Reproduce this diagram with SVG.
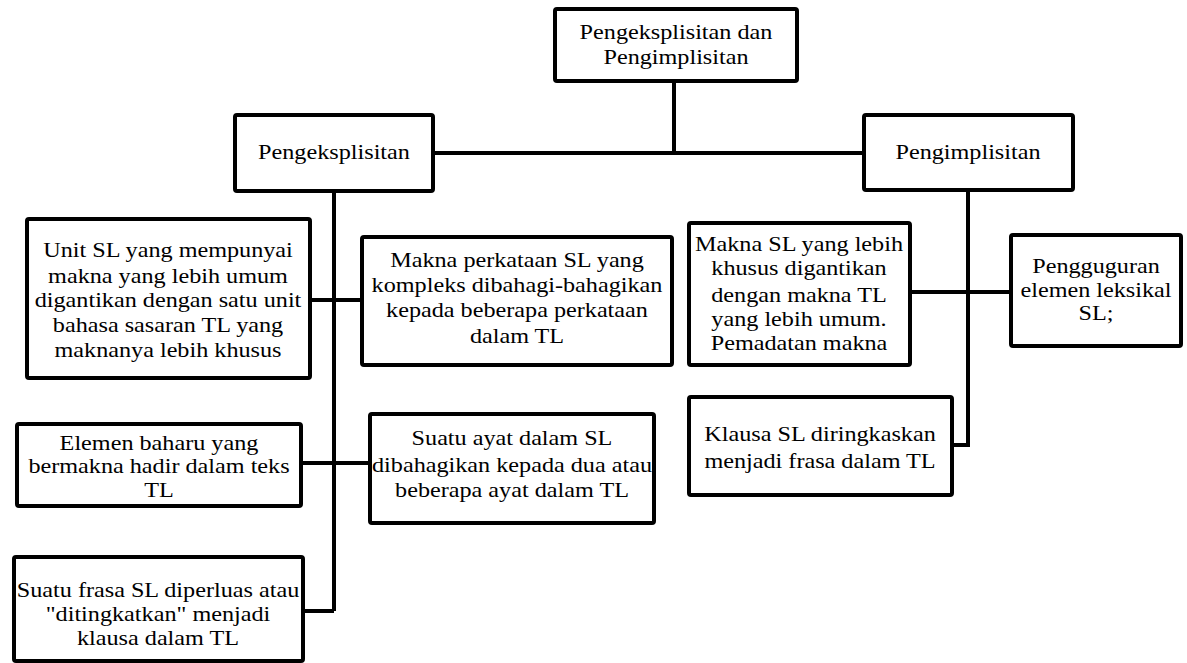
<svg xmlns="http://www.w3.org/2000/svg" width="1187" height="663" viewBox="0 0 1187 663">
  <style>
    .box { fill: #ffffff; stroke: #000000; stroke-width: 4; }
    text { font-family: 'Liberation Serif', 'Times New Roman', serif; font-size: 22px; fill: #000000; text-anchor: middle; }
    .wire { fill: none; stroke: #000000; stroke-width: 4; }
  </style>
  <rect width="1187" height="663" fill="#ffffff"/>

  <!-- connectors -->
  <g id="connectors" class="wire">
    <path d="M674,81 V153"/>
    <path d="M433,153 H864"/>
    <path d="M334,191 V611"/>
    <path d="M310,300 H362"/>
    <path d="M301,463 H370"/>
    <path d="M303,611 H334"/>
    <path d="M968,190 V445 H952"/>
    <path d="M910,292 H1011"/>
  </g>

  <!-- labels are drawn slightly widened: each label group is centred at its box's x -->
  <g id="root">
    <rect class="box" x="555" y="9" width="242" height="72" rx="2"/>
    <g transform="translate(676,0) scale(1.1,1)">
      <text x="0" y="39">Pengeksplisitan dan</text>
      <text x="0" y="64">Pengimplisitan</text>
    </g>
  </g>

  <g id="pengeksplisitan">
    <rect class="box" x="235" y="115" width="198" height="76" rx="2"/>
    <g transform="translate(334,0) scale(1.1,1)">
      <text x="0" y="159">Pengeksplisitan</text>
    </g>
  </g>

  <g id="pengimplisitan">
    <rect class="box" x="864" y="115" width="209" height="75" rx="2"/>
    <g transform="translate(968,0) scale(1.1,1)">
      <text x="0" y="159">Pengimplisitan</text>
    </g>
  </g>

  <g id="unit-sl">
    <rect class="box" x="27" y="219" width="283" height="159" rx="2"/>
    <g transform="translate(168,0) scale(1.1,1)">
      <text x="0" y="257">Unit SL yang mempunyai</text>
      <text x="0" y="283">makna yang lebih umum</text>
      <text x="0" y="307">digantikan dengan satu unit</text>
      <text x="0" y="332">bahasa sasaran TL yang</text>
      <text x="0" y="357">maknanya lebih khusus</text>
    </g>
  </g>

  <g id="makna-perkataan">
    <rect class="box" x="362" y="237" width="310" height="128" rx="2"/>
    <g transform="translate(517,0) scale(1.1,1)">
      <text x="0" y="267">Makna perkataan SL yang</text>
      <text x="0" y="292">kompleks dibahagi-bahagikan</text>
      <text x="0" y="317">kepada beberapa perkataan</text>
      <text x="0" y="343">dalam TL</text>
    </g>
  </g>

  <g id="makna-sl">
    <rect class="box" x="689" y="223" width="221" height="142" rx="2"/>
    <g transform="translate(799,0) scale(1.1,1)">
      <text x="0" y="251">Makna SL yang lebih</text>
      <text x="0" y="275">khusus digantikan</text>
      <text x="0" y="302">dengan makna TL</text>
      <text x="0" y="326">yang lebih umum.</text>
      <text x="0" y="350">Pemadatan makna</text>
    </g>
  </g>

  <g id="pengguguran">
    <rect class="box" x="1011" y="235" width="170" height="111" rx="2"/>
    <g transform="translate(1096,0) scale(1.1,1)">
      <text x="0" y="273">Pengguguran</text>
      <text x="0" y="297">elemen leksikal</text>
      <text x="0" y="320">SL;</text>
    </g>
  </g>

  <g id="elemen-baharu">
    <rect class="box" x="17" y="424" width="284" height="82" rx="2"/>
    <g transform="translate(159,0) scale(1.1,1)">
      <text x="0" y="450">Elemen baharu yang</text>
      <text x="0" y="473">bermakna hadir dalam teks</text>
      <text x="0" y="497">TL</text>
    </g>
  </g>

  <g id="suatu-frasa">
    <rect class="box" x="14" y="557" width="289" height="104" rx="2"/>
    <g transform="translate(158,0) scale(1.1,1)">
      <text x="0" y="597">Suatu frasa SL diperluas atau</text>
      <text x="0" y="621">"ditingkatkan" menjadi</text>
      <text x="0" y="645">klausa dalam TL</text>
    </g>
  </g>

  <g id="suatu-ayat">
    <rect class="box" x="370" y="414" width="284" height="109" rx="2"/>
    <g transform="translate(512,0) scale(1.1,1)">
      <text x="0" y="445">Suatu ayat dalam SL</text>
      <text x="0" y="472">dibahagikan kepada dua atau</text>
      <text x="0" y="497">beberapa ayat dalam TL</text>
    </g>
  </g>

  <g id="klausa-sl">
    <rect class="box" x="689" y="397" width="263" height="98" rx="2"/>
    <g transform="translate(820,0) scale(1.1,1)">
      <text x="0" y="441">Klausa SL diringkaskan</text>
      <text x="0" y="468">menjadi frasa dalam TL</text>
    </g>
  </g>
</svg>
